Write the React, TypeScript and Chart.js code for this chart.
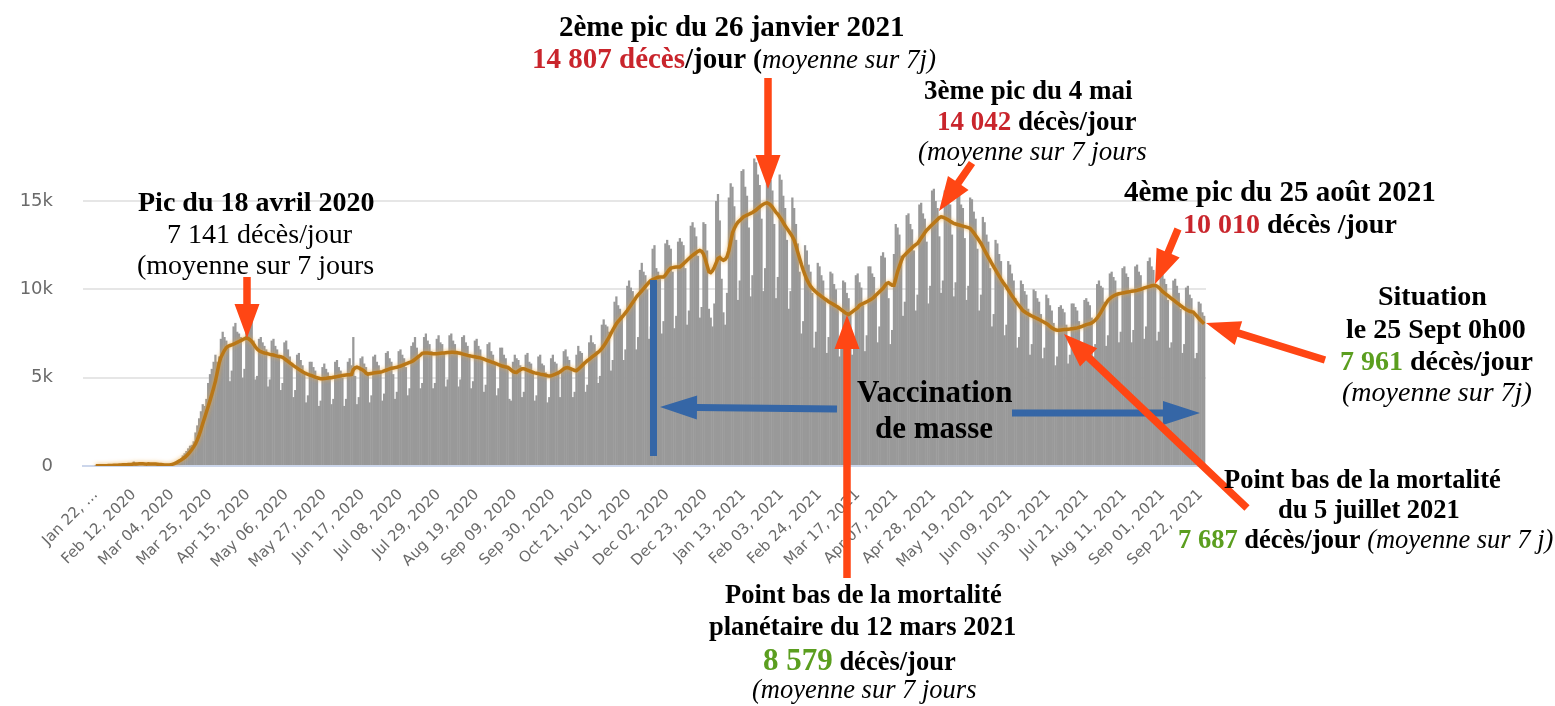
import React, { useEffect, useRef } from 'react';
import { Chart, registerables } from 'chart.js';

Chart.register(...registerables);

// ---- Daily deaths (bars), one array per month ----
const daily2020Jan = [17, 8, 16, 15, 24, 26, 26, 38, 43, 46];
const daily2020Feb = [45, 57, 64, 66, 73, 73, 86, 89, 97, 108, 97, 254, 13, 143, 142, 106, 98, 136, 115, 118, 109, 97, 150, 71, 52, 29, 44, 37, 35];
const daily2020Mar = [60, 70, 90, 130, 180, 240, 310, 330, 400, 600, 720, 850, 1000, 1150, 1200, 1400, 1900, 2300, 2700, 3100, 3500, 3400, 3800, 4700, 5200, 5500, 5900, 6300, 5900, 6200, 7200];
const daily2020Apr = [7600, 7300, 7100, 6800, 4800, 5400, 7900, 8100, 7600, 7500, 7300, 5000, 5500, 8200, 8300, 8000, 8500, 7100, 4900, 5100, 7200, 7300, 7000, 6800, 6600, 4500, 4900, 7100, 7200, 6800];
const daily2020May = [6600, 6300, 4300, 4700, 7000, 7100, 6600, 6200, 5800, 3900, 4300, 6300, 6400, 6000, 5700, 5300, 3600, 4000, 5900, 5900, 5600, 5400, 5000, 3400, 3700, 5600, 5800, 5500, 5300, 5100, 3500];
const daily2020Jun = [3800, 5900, 6000, 5600, 5400, 5000, 3400, 3800, 5900, 6100, 5700, 7300, 5100, 3500, 3900, 6100, 6200, 5800, 5600, 5200, 3600, 4000, 6200, 6300, 5900, 5700, 5300, 3700, 4100, 6400];
const daily2020Jul = [6500, 6100, 5900, 5200, 3800, 4200, 6500, 6600, 6300, 6100, 5600, 4000, 4400, 6800, 7000, 7300, 6700, 6200, 4400, 4700, 7300, 7500, 7100, 6900, 6500, 4400, 4700, 7200, 7400, 7000, 6900];
const daily2020Aug = [6400, 4500, 4900, 7400, 7500, 7100, 6900, 6500, 4500, 4900, 7300, 7400, 7000, 6800, 6300, 4400, 4800, 7100, 7200, 6800, 6600, 6100, 4200, 4600, 6900, 7000, 6500, 6300, 5800, 4000, 4400];
const daily2020Sep = [6700, 6700, 6300, 6100, 5600, 3800, 3700, 5900, 6300, 6100, 6000, 5700, 3900, 4200, 6300, 6400, 5900, 5800, 5400, 3700, 4000, 6200, 6300, 5800, 5700, 5300, 3600, 3900, 6100, 6300];
const daily2020Oct = [5900, 5800, 5400, 3900, 5500, 6500, 6600, 6200, 6000, 5500, 3900, 4200, 6300, 6800, 6500, 6400, 5900, 4200, 4600, 7000, 7400, 7000, 6900, 6500, 4700, 5100, 8000, 8300, 8000, 7900, 7600];
const daily2020Nov = [5400, 6000, 9300, 9600, 9100, 8900, 8400, 6000, 6600, 10200, 10500, 10100, 9900, 9300, 6600, 7300, 11100, 11500, 11000, 10800, 10000, 7200, 7900, 12300, 12500, 11200, 11000, 10600, 7500, 8200];
const daily2020Dec = [12600, 12800, 12500, 12300, 11000, 7800, 8500, 12700, 12900, 12700, 12500, 11200, 8000, 8800, 13600, 13800, 13500, 13000, 11900, 8400, 9000, 13800, 13700, 12200, 8900, 8400, 7900, 9200, 15000, 15400, 13900];
const daily2021Jan = [10600, 8700, 8000, 9800, 15200, 16000, 15800, 14700, 12800, 9400, 10500, 16700, 16800, 15800, 15300, 13500, 9600, 10800, 17400, 17200, 16500, 15900, 14000, 9900, 11200, 17300, 17000, 16200, 15600, 13700, 9500];
const daily2021Feb = [10700, 16500, 16200, 15300, 14600, 12800, 8900, 9900, 15200, 14600, 13700, 12600, 11000, 7500, 8200, 12500, 12200, 11400, 11000, 9800, 6700, 7600, 11500, 11300, 10800, 10500, 9400, 6400];
const daily2021Mar = [7300, 11000, 10900, 10300, 10000, 8900, 6200, 7000, 10500, 10400, 9800, 9500, 8600, 6300, 7200, 10800, 10900, 10400, 10100, 9100, 6500, 7400, 11300, 11300, 10900, 10700, 9700, 7000, 7900, 11900, 12100];
const daily2021Apr = [11800, 10400, 9500, 6900, 7700, 12000, 13700, 13500, 13100, 11900, 8500, 9300, 14200, 14300, 13700, 13400, 12200, 8800, 9700, 14800, 14900, 14300, 14000, 12700, 9200, 10200, 15600, 15700, 15000, 14600];
const daily2021May = [13000, 9800, 10500, 15600, 15800, 15200, 14800, 13100, 9600, 10400, 15400, 15500, 14800, 14600, 12900, 9400, 10200, 15200, 15100, 14400, 14000, 12300, 8800, 9700, 14100, 13800, 13100, 12700, 11200, 7900, 8600];
const daily2021Jun = [12800, 12600, 12000, 11600, 10400, 7400, 8000, 11600, 11400, 10900, 10500, 9500, 6700, 7300, 10500, 10300, 9900, 9700, 8900, 6300, 6900, 10000, 9900, 9500, 9300, 8600, 6100, 6700, 9700, 9500];
const daily2021Jul = [9100, 8800, 8100, 5700, 6200, 9000, 9100, 8900, 8700, 8000, 5800, 6300, 9200, 9200, 9000, 8800, 8200, 5900, 6500, 9400, 9500, 9300, 9100, 8400, 6200, 6900, 10300, 10500, 10200, 10100, 9300];
const daily2021Aug = [6800, 7400, 10900, 11000, 10700, 10500, 9700, 7000, 7600, 11200, 11300, 10900, 10700, 9800, 7000, 7700, 11300, 11400, 11000, 10800, 10000, 7200, 7900, 11600, 11800, 11300, 11100, 10200, 7100, 7600, 11000];
const daily2021Sep = [11100, 10600, 10300, 9400, 6700, 7000, 10500, 10600, 10200, 9800, 8900, 6400, 6900, 10100, 10200, 9700, 9500, 8600, 6100, 6400, 9300, 9200, 8700, 8500];

// ---- 7-day average (line), one array per month ----
const avg2020Jan = [17, 13, 14, 14, 16, 18, 19, 22, 27, 31];
const avg2020Feb = [37, 42, 48, 54, 61, 66, 71, 78, 84, 91, 98, 118, 112, 119, 124, 124, 122, 120, 106, 123, 118, 111, 118, 114, 102, 89, 79, 69, 61];
const avg2020Mar = [55, 60, 70, 90, 120, 160, 210, 280, 340, 410, 480, 570, 680, 800, 930, 1080, 1250, 1480, 1750, 2050, 2400, 2720, 3040, 3370, 3700, 4050, 4420, 4800, 5300, 5800, 6150];
const avg2020Apr = [6350, 6550, 6700, 6780, 6820, 6850, 6900, 6950, 7000, 7050, 7100, 7150, 7200, 7250, 7220, 7150, 7050, 6900, 6750, 6620, 6530, 6470, 6430, 6400, 6380, 6350, 6320, 6300, 6280, 6250];
const avg2020May = [6220, 6200, 6180, 6150, 6080, 6000, 5920, 5840, 5760, 5680, 5610, 5540, 5470, 5400, 5340, 5280, 5230, 5190, 5150, 5110, 5070, 5030, 5000, 4970, 4940, 4940, 4950, 4960, 4980, 4990, 5000];
const avg2020Jun = [5020, 5040, 5060, 5080, 5100, 5120, 5140, 5150, 5160, 5170, 5180, 5450, 5560, 5600, 5560, 5500, 5450, 5380, 5260, 5200, 5220, 5240, 5260, 5280, 5290, 5300, 5320, 5340, 5380, 5420];
const avg2020Jul = [5460, 5500, 5530, 5550, 5570, 5590, 5620, 5660, 5700, 5740, 5780, 5820, 5860, 5900, 5960, 6040, 6120, 6200, 6280, 6380, 6400, 6400, 6390, 6380, 6370, 6360, 6360, 6360, 6370, 6380, 6390];
const avg2020Aug = [6400, 6410, 6420, 6430, 6440, 6440, 6430, 6420, 6400, 6380, 6350, 6320, 6290, 6260, 6240, 6220, 6200, 6180, 6160, 6140, 6120, 6090, 6050, 6010, 5970, 5930, 5890, 5860, 5820, 5780, 5740];
const avg2020Sep = [5700, 5660, 5630, 5600, 5590, 5520, 5430, 5350, 5310, 5300, 5380, 5450, 5500, 5500, 5470, 5420, 5380, 5340, 5300, 5270, 5250, 5230, 5200, 5180, 5160, 5140, 5110, 5100, 5110, 5140];
const avg2020Oct = [5180, 5230, 5270, 5330, 5420, 5500, 5550, 5570, 5540, 5500, 5450, 5410, 5400, 5480, 5580, 5680, 5780, 5870, 5960, 6040, 6120, 6200, 6280, 6360, 6440, 6530, 6660, 6800, 6950, 7120, 7290];
const avg2020Nov = [7500, 7700, 7880, 8050, 8180, 8300, 8420, 8540, 8670, 8800, 8950, 9100, 9250, 9400, 9560, 9680, 9800, 9920, 10040, 10160, 10280, 10400, 10500, 10550, 10600, 10650, 10680, 10700, 10700, 10700];
const avg2020Dec = [10800, 10950, 11100, 11200, 11230, 11250, 11260, 11270, 11270, 11350, 11450, 11550, 11650, 11750, 11840, 11920, 12000, 12080, 12150, 12200, 12150, 12000, 11700, 11350, 11000, 10950, 11050, 11250, 11500, 11740, 11800];
const avg2021Jan = [11700, 11650, 11700, 11840, 12200, 12700, 13200, 13450, 13650, 13800, 13900, 14000, 14100, 14150, 14200, 14250, 14300, 14350, 14420, 14490, 14580, 14670, 14750, 14820, 14870, 14900, 14850, 14770, 14650, 14500, 14350];
const avg2021Feb = [14250, 14100, 13950, 13780, 13600, 13450, 13300, 13150, 12980, 12780, 12450, 12100, 11750, 11400, 11080, 10800, 10550, 10350, 10180, 10050, 9940, 9850, 9760, 9680, 9600, 9530, 9450, 9380];
const avg2021Mar = [9300, 9240, 9180, 9120, 9060, 9000, 8920, 8840, 8760, 8680, 8620, 8580, 8650, 8730, 8810, 8880, 8960, 9090, 9150, 9200, 9250, 9300, 9350, 9410, 9470, 9560, 9660, 9760, 9860, 9960, 10060];
const avg2021Apr = [10200, 10340, 10380, 10300, 10230, 10230, 10600, 11000, 11300, 11600, 11840, 11950, 12050, 12150, 12250, 12350, 12450, 12530, 12600, 12750, 12900, 13050, 13200, 13350, 13450, 13550, 13650, 13750, 13850, 13950];
const avg2021May = [14050, 14100, 14080, 14040, 13980, 13920, 13850, 13790, 13730, 13700, 13670, 13640, 13610, 13580, 13550, 13520, 13490, 13450, 13330, 13200, 13050, 12900, 12750, 12600, 12400, 12200, 12010, 11820, 11640, 11450, 11270];
const avg2021Jun = [11100, 10920, 10750, 10580, 10420, 10270, 10130, 9960, 9800, 9640, 9490, 9340, 9200, 9070, 8940, 8800, 8730, 8660, 8600, 8540, 8490, 8440, 8390, 8340, 8290, 8240, 8180, 8120, 8060, 8000];
const avg2021Jul = [7900, 7820, 7760, 7710, 7690, 7690, 7700, 7710, 7720, 7730, 7740, 7750, 7770, 7780, 7800, 7820, 7850, 7880, 7920, 7960, 8000, 8030, 8050, 8100, 8170, 8260, 8380, 8530, 8700, 8880, 9060];
const avg2021Aug = [9220, 9380, 9480, 9560, 9620, 9680, 9720, 9750, 9770, 9790, 9810, 9830, 9850, 9870, 9890, 9910, 9920, 9940, 9970, 10000, 10040, 10080, 10110, 10140, 10170, 10200, 10220, 10230, 10180, 10100, 10000];
const avg2021Sep = [9880, 9800, 9720, 9640, 9560, 9480, 9400, 9320, 9240, 9160, 9080, 9000, 8930, 8860, 8800, 8760, 8730, 8710, 8600, 8480, 8360, 8250, 8150, 8050];

// ---- Axis tick labels (every 21 days from Jan 22, 2020) ----
const xTickLabels = [
  'Jan 22, …', 'Feb 12, 2020', 'Mar 04, 2020', 'Mar 25, 2020', 'Apr 15, 2020', 'May 06, 2020',
  'May 27, 2020', 'Jun 17, 2020', 'Jul 08, 2020', 'Jul 29, 2020', 'Aug 19, 2020', 'Sep 09, 2020',
  'Sep 30, 2020', 'Oct 21, 2020', 'Nov 11, 2020', 'Dec 02, 2020', 'Dec 23, 2020', 'Jan 13, 2021',
  'Feb 03, 2021', 'Feb 24, 2021', 'Mar 17, 2021', 'Apr 07, 2021', 'Apr 28, 2021', 'May 19, 2021',
  'Jun 09, 2021', 'Jun 30, 2021', 'Jul 21, 2021', 'Aug 11, 2021', 'Sep 01, 2021', 'Sep 22, 2021',
];
const TICK_STEP_DAYS = 21;
const yTickValues = [0, 5000, 10000, 15000];
const yTickLabels = ['0', '5k', '10k', '15k'];

const dailyDeaths = [
  ...daily2020Jan, ...daily2020Feb, ...daily2020Mar, ...daily2020Apr, ...daily2020May, ...daily2020Jun,
  ...daily2020Jul, ...daily2020Aug, ...daily2020Sep, ...daily2020Oct, ...daily2020Nov, ...daily2020Dec,
  ...daily2021Jan, ...daily2021Feb, ...daily2021Mar, ...daily2021Apr, ...daily2021May, ...daily2021Jun,
  ...daily2021Jul, ...daily2021Aug, ...daily2021Sep,
];
const avg7 = [
  ...avg2020Jan, ...avg2020Feb, ...avg2020Mar, ...avg2020Apr, ...avg2020May, ...avg2020Jun,
  ...avg2020Jul, ...avg2020Aug, ...avg2020Sep, ...avg2020Oct, ...avg2020Nov, ...avg2020Dec,
  ...avg2021Jan, ...avg2021Feb, ...avg2021Mar, ...avg2021Apr, ...avg2021May, ...avg2021Jun,
  ...avg2021Jul, ...avg2021Aug, ...avg2021Sep,
];
const dayIndex = dailyDeaths.map((_, i) => i);

// ---- Annotation styling ----
const FONT = '"Liberation Serif", "Times New Roman", serif';
const RED = '#c9252c';
const GREEN = '#5b9e1f';
const ARROW = '#ff4614';
const BLUE = '#3566a6';

type Seg = { t: string; c?: string; b?: boolean; i?: boolean; s?: number };
type TextLine = { x: number; y: number; size: number; segs: Seg[] };

const textLines: TextLine[] = [
  { x: 138, y: 211, size: 28, segs: [{ t: 'Pic du 18 avril 2020', b: true }] },
  { x: 167, y: 243, size: 28, segs: [{ t: '7 141 décès/jour' }] },
  { x: 137, y: 274, size: 28, segs: [{ t: '(moyenne sur 7 jours' }] },

  { x: 559, y: 36, size: 29, segs: [{ t: '2ème pic du 26 janvier 2021', b: true }] },
  { x: 532, y: 68, size: 29, segs: [{ t: '14 807 décès', b: true, c: RED }, { t: '/jour', b: true }, { t: ' (', b: true, s: 27 }, { t: 'moyenne sur 7j)', i: true, s: 27 }] },

  { x: 924, y: 99, size: 27, segs: [{ t: '3ème pic du 4 mai', b: true }] },
  { x: 937, y: 130, size: 27, segs: [{ t: '14 042', b: true, c: RED }, { t: ' décès/jour', b: true }] },
  { x: 918, y: 160, size: 27, segs: [{ t: '(moyenne sur 7 jours', i: true }] },

  { x: 1124, y: 201, size: 29, segs: [{ t: '4ème pic du 25 août 2021', b: true }] },
  { x: 1183, y: 233, size: 28, segs: [{ t: '10 010', b: true, c: RED }, { t: ' décès /jour', b: true }] },

  { x: 1378, y: 305, size: 28, segs: [{ t: 'Situation', b: true }] },
  { x: 1346, y: 338, size: 28, segs: [{ t: 'le 25 Sept 0h00', b: true }] },
  { x: 1340, y: 370, size: 28, segs: [{ t: '7 961', b: true, c: GREEN }, { t: ' décès/jour', b: true }] },
  { x: 1342, y: 401, size: 28, segs: [{ t: '(moyenne sur 7j)', i: true }] },

  { x: 1224, y: 488, size: 26.5, segs: [{ t: 'Point bas de la mortalité', b: true }] },
  { x: 1278, y: 518, size: 26.5, segs: [{ t: 'du 5 juillet 2021', b: true }] },
  { x: 1178, y: 548, size: 26.5, segs: [{ t: '7 687', b: true, c: GREEN }, { t: ' décès/jour', b: true }, { t: ' (moyenne sur 7 j)', i: true }] },

  { x: 857, y: 402, size: 31, segs: [{ t: 'Vaccination', b: true }] },
  { x: 875, y: 438, size: 31, segs: [{ t: 'de masse', b: true }] },

  { x: 725, y: 603, size: 26.5, segs: [{ t: 'Point bas de la mortalité', b: true }] },
  { x: 709, y: 635, size: 26.5, segs: [{ t: 'planétaire du 12 mars 2021', b: true }] },
  { x: 763, y: 670, size: 26.5, segs: [{ t: '8 579', b: true, c: GREEN, s: 31 }, { t: ' décès/jour', b: true }] },
  { x: 752, y: 698, size: 26.5, segs: [{ t: '(moyenne sur 7 jours', i: true }] },
];

// [x1, y1, x2(tip), y2(tip)]
const redArrows: number[][] = [
  [247, 277, 247, 338],
  [768, 78, 768, 189],
  [972, 163, 939, 211],
  [1178, 229, 1155, 284],
  [1325, 360, 1206, 323],
  [1247, 508, 1064, 334],
  [847, 578, 847, 315],
];
const blueArrows: number[][] = [
  [837, 409, 660, 407],
  [1012, 413, 1200, 413],
];

function drawArrow(ctx: CanvasRenderingContext2D, a: number[], w: number, hl: number, hw: number, color: string) {
  const [x1, y1, x2, y2] = a;
  const dx = x2 - x1, dy = y2 - y1;
  const len = Math.hypot(dx, dy);
  const ux = dx / len, uy = dy / len;
  const px = -uy, py = ux;
  const bx = x2 - ux * hl, by = y2 - uy * hl;
  ctx.fillStyle = color;
  ctx.beginPath();
  ctx.moveTo(x1 + (px * w) / 2, y1 + (py * w) / 2);
  ctx.lineTo(bx + (px * w) / 2, by + (py * w) / 2);
  ctx.lineTo(bx + (px * hw) / 2, by + (py * hw) / 2);
  ctx.lineTo(x2, y2);
  ctx.lineTo(bx - (px * hw) / 2, by - (py * hw) / 2);
  ctx.lineTo(bx - (px * w) / 2, by - (py * w) / 2);
  ctx.lineTo(x1 - (px * w) / 2, y1 - (py * w) / 2);
  ctx.closePath();
  ctx.fill();
}

const fontOf = (s: Seg, size: number) =>
  `${s.i ? 'italic ' : ''}${s.b ? 'bold ' : ''}${s.s ?? size}px ${FONT}`;

const annotationPlugin = {
  id: 'annotations',
  afterDraw(chart: Chart) {
    const ctx = chart.ctx;
    ctx.save();
    ctx.fillStyle = BLUE;
    ctx.fillRect(650, 280, 7, 176);
    blueArrows.forEach((a) => drawArrow(ctx, a, 7, 37, 24, BLUE));
    redArrows.forEach((a) => drawArrow(ctx, a, 7.5, 34, 25, ARROW));
    ctx.textAlign = 'left';
    ctx.textBaseline = 'alphabetic';
    textLines.forEach((ln) => {
      let x = ln.x;
      ln.segs.forEach((s) => {
        ctx.font = fontOf(s, ln.size);
        ctx.fillStyle = s.c ?? '#000';
        ctx.fillText(s.t, x, ln.y);
        x += ctx.measureText(s.t).width;
      });
    });
    ctx.restore();
  },
};

const glowPlugin = {
  id: 'lineGlow',
  beforeDatasetDraw(chart: Chart, args: any) {
    if (args.index === 0) {
      const ctx = chart.ctx;
      ctx.save();
      ctx.shadowColor = 'rgba(235, 165, 60, 0.75)';
      ctx.shadowBlur = 4;
    }
  },
  afterDatasetDraw(chart: Chart, args: any) {
    if (args.index === 0) chart.ctx.restore();
  },
};

export default function App() {
  const ref = useRef<HTMLCanvasElement>(null);
  useEffect(() => {
    document.body.style.margin = '0';
    const chart = new Chart(ref.current!, {
      type: 'bar',
      data: {
        labels: dayIndex,
        datasets: [
          {
            type: 'line',
            label: 'Moyenne 7 jours',
            data: avg7,
            borderColor: '#b97717',
            borderWidth: 3.5,
            pointRadius: 0,
            tension: 0,
            order: 0,
          } as any,
          {
            type: 'bar',
            label: 'Décès quotidiens',
            data: dailyDeaths,
            backgroundColor: '#999999',
            borderWidth: 0,
            barPercentage: 1.25,
            categoryPercentage: 1,
            order: 1,
          } as any,
        ],
      },
      options: {
        animation: false,
        responsive: false,
        devicePixelRatio: 1,
        layout: { padding: { left: 0, top: 148, right: 349, bottom: 0 } },
        plugins: { legend: { display: false }, tooltip: { enabled: false } },
        scales: {
          x: {
            type: 'linear',
            min: -7,
            max: 612,
            bounds: 'data',
            offset: false,
            grid: { display: false, drawTicks: false },
            border: { display: true, color: '#ccd6eb', width: 2 },
            afterBuildTicks: (s: any) => {
              s.ticks = xTickLabels.map((_, k) => ({ value: k * TICK_STEP_DAYS }));
            },
            afterFit: (s: any) => {
              s.height = 240;
            },
            ticks: {
              autoSkip: false,
              minRotation: 45,
              maxRotation: 45,
              padding: 20,
              color: '#6a6a6a',
              font: { family: '"DejaVu Sans", sans-serif', size: 15 },
              callback: (v: any) => xTickLabels[Math.round(Number(v) / TICK_STEP_DAYS)] ?? '',
            },
          },
          y: {
            min: 0,
            max: 18000,
            bounds: 'data',
            afterBuildTicks: (s: any) => {
              s.ticks = yTickValues.map((v) => ({ value: v }));
            },
            afterFit: (s: any) => {
              s.width = 83;
            },
            grid: { color: '#e6e6e6', lineWidth: 2, drawTicks: false },
            border: { display: false },
            ticks: {
              padding: 30,
              color: '#6a6a6a',
              font: { family: '"DejaVu Sans", sans-serif', size: 18 },
              callback: (v: any) => yTickLabels[yTickValues.indexOf(Number(v))] ?? '',
            },
          },
        },
      } as any,
      plugins: [glowPlugin, annotationPlugin],
    });
    return () => chart.destroy();
  }, []);
  return (
    <div style={{ width: 1555, height: 706, position: 'relative', background: '#fff' }}>
      <canvas ref={ref} width={1555} height={706} style={{ display: 'block' }} />
    </div>
  );
}
